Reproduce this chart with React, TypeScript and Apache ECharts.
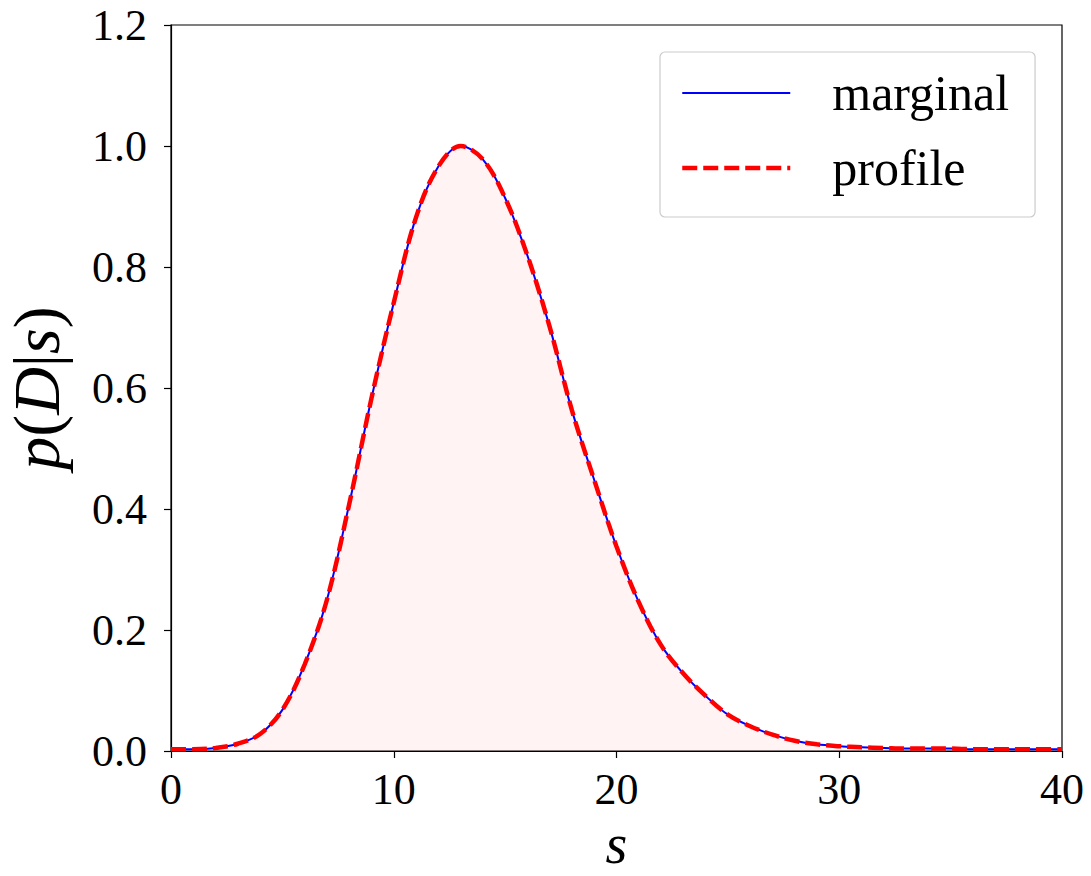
import React, { useEffect, useRef } from "react";
import * as echarts from "echarts";

const sValues: number[] = [0, 1, 2, 3, 4, 5, 6, 7, 8, 9, 10, 11, 12, 13, 14, 15, 16, 17, 18, 19, 20, 21, 22, 23, 24, 25, 26, 27, 28, 29, 30, 31, 32, 33, 34, 35, 36, 37, 38, 39, 40];
const marginalValues: number[] = [0.003, 0.003, 0.005, 0.012, 0.028, 0.068, 0.143, 0.25, 0.408, 0.583, 0.741, 0.882, 0.966, 1.0, 0.978, 0.914, 0.819, 0.701, 0.563, 0.448, 0.338, 0.246, 0.175, 0.128, 0.091, 0.06, 0.041, 0.027, 0.017, 0.011, 0.008, 0.006, 0.005, 0.004, 0.004, 0.004, 0.003, 0.003, 0.003, 0.003, 0.003];
const profileValues: number[] = [0.003, 0.003, 0.005, 0.012, 0.028, 0.068, 0.143, 0.25, 0.408, 0.583, 0.741, 0.882, 0.966, 1.0, 0.978, 0.914, 0.819, 0.701, 0.563, 0.448, 0.338, 0.246, 0.175, 0.128, 0.091, 0.06, 0.041, 0.027, 0.017, 0.011, 0.008, 0.006, 0.005, 0.004, 0.004, 0.004, 0.003, 0.003, 0.003, 0.003, 0.003];
const seriesNames: string[] = ["marginal", "profile"];
const xTicks: number[] = [0, 10, 20, 30, 40];
const yTicks: number[] = [0, 0.2, 0.4, 0.6, 0.8, 1.0, 1.2];

const FONT = "'Liberation Serif', 'DejaVu Serif', serif";

export default function App() {
  const ref = useRef<HTMLDivElement>(null);
  useEffect(() => {
    if (!ref.current) return;
    const chart = echarts.init(ref.current, null, { renderer: "svg" });
    const marginal = sValues.map((s, i) => [s, marginalValues[i]]);
    const profile = sValues.map((s, i) => [s, profileValues[i]]);
    const blueLine = { color: "#0000ff", width: 2, type: "solid" as const };
    const redLine = { color: "#ff0000", width: 4.5, type: [15, 6] };
    chart.setOption({
      animation: false,
      backgroundColor: "#ffffff",
      grid: {
        left: 171,
        top: 25,
        right: 29,
        bottom: 125,
        outerBoundsMode: "none",
        containLabel: false,
        show: true,
        borderColor: "#000",
        borderWidth: 1.2,
        backgroundColor: "transparent",
      },
      legend: {
        orient: "vertical",
        left: 660,
        top: 52,
        data: [
          { name: seriesNames[0], itemStyle: { opacity: 0 }, lineStyle: blueLine },
          { name: seriesNames[1], itemStyle: { opacity: 0 }, lineStyle: redLine },
        ],
        itemStyle: { opacity: 0 },
        backgroundColor: "rgba(255,255,255,0.85)",
        borderColor: "#cccccc",
        borderWidth: 1.2,
        borderRadius: 5,
        padding: [16, 26, 24, 20],
        itemWidth: 108,
        itemHeight: 20,
        itemGap: 25,
        textStyle: {
          fontFamily: FONT,
          fontSize: 50,
          color: "#000",
          lineHeight: 50,
          padding: [0, 0, 0, 37],
        },
      },
      xAxis: {
        type: "value",
        min: xTicks[0],
        max: xTicks[xTicks.length - 1],
        interval: 10,
        name: "s",
        nameLocation: "middle",
        nameGap: 62,
        nameTextStyle: { fontFamily: FONT, fontSize: 56, lineHeight: 56, fontStyle: "italic", color: "#000" },
        axisLine: { show: true, lineStyle: { color: "#000", width: 1.2 } },
        axisTick: { show: true, inside: false, length: 7, lineStyle: { color: "#000", width: 1.2 } },
        axisLabel: { fontFamily: FONT, fontSize: 44, color: "#000", margin: 16 },
        splitLine: { show: false },
      },
      yAxis: {
        type: "value",
        min: yTicks[0],
        max: yTicks[yTicks.length - 1],
        interval: 0.2,
        name: "{i|p}{u|(}{i|D}{u||}{i|s}{u|)}",
        nameLocation: "middle",
        nameGap: 102,
        nameTextStyle: {
          fontFamily: FONT,
          fontSize: 66,
          lineHeight: 66,
          color: "#000",
          rich: {
            i: { fontFamily: FONT, fontSize: 66, lineHeight: 66, fontStyle: "italic", color: "#000" },
            u: { fontFamily: FONT, fontSize: 66, lineHeight: 66, color: "#000" },
          },
        },
        axisLine: { show: true, lineStyle: { color: "#000", width: 1.2 } },
        axisTick: { show: true, inside: false, length: 7, lineStyle: { color: "#000", width: 1.2 } },
        axisLabel: {
          fontFamily: FONT,
          fontSize: 44,
          color: "#000",
          margin: 24,
          formatter: (v: number) => v.toFixed(1),
        },
        splitLine: { show: false },
      },
      series: [
        {
          name: seriesNames[0],
          type: "line",
          data: marginal,
          showSymbol: false,
          symbol: "none",
          smooth: 0.35,
          lineStyle: blueLine,
          itemStyle: { color: "#0000ff" },
          areaStyle: { color: "rgba(255,0,0,0.07)", origin: "start" },
          z: 2,
        },
        {
          name: seriesNames[1],
          type: "line",
          data: profile,
          showSymbol: false,
          symbol: "none",
          smooth: 0.35,
          lineStyle: redLine,
          itemStyle: { color: "#ff0000" },
          z: 3,
        },
      ],
    });
    return () => chart.dispose();
  }, []);
  return (
    <div
      ref={ref}
      style={{ position: "absolute", left: 0, top: 0, width: 1091, height: 876 }}
    />
  );
}
